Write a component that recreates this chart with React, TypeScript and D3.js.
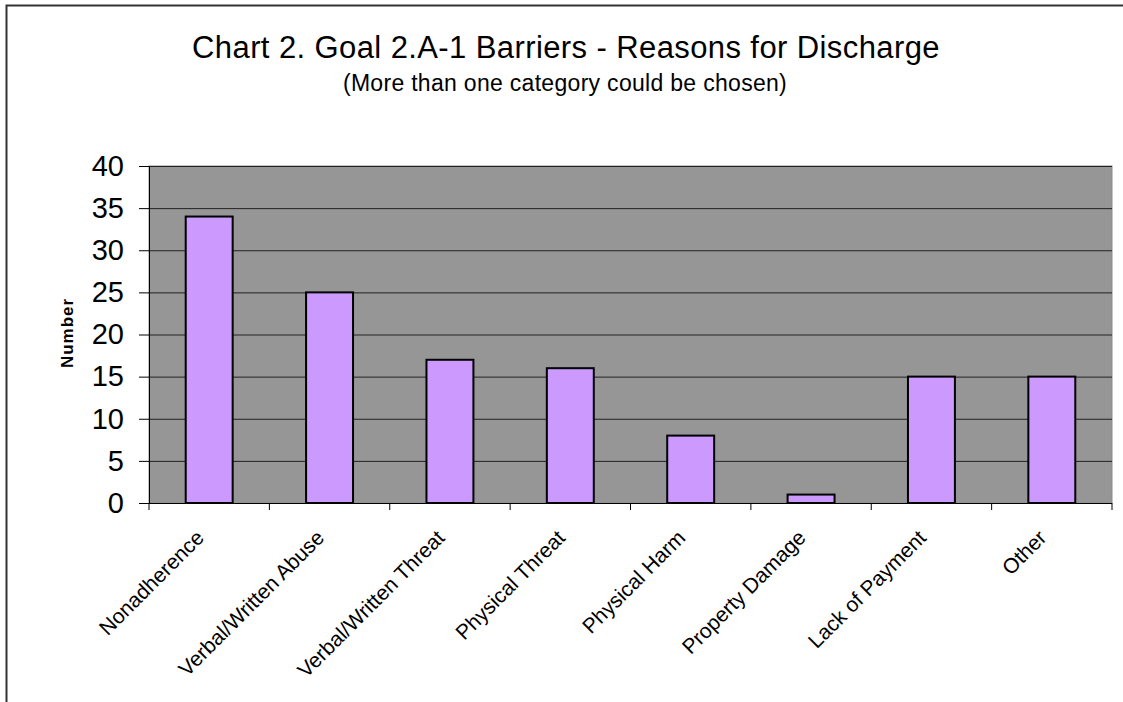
import React, { useEffect, useRef } from "react";
import * as d3 from "d3";

const categories = [
  "Nonadherence",
  "Verbal/Written Abuse",
  "Verbal/Written Threat",
  "Physical Threat",
  "Physical Harm",
  "Property Damage",
  "Lack of Payment",
  "Other",
];
const counts = [34, 25, 17, 16, 8, 1, 15, 15];
const yTicks = [0, 5, 10, 15, 20, 25, 30, 35, 40];

const W = 1123;
const H = 702;
const FONT = "'Liberation Sans', Arial, sans-serif";

const App: React.FC = () => {
  const ref = useRef<SVGSVGElement>(null);

  useEffect(() => {
    if (!ref.current) return;
    const svg = d3.select(ref.current);
    svg.selectAll("*").remove();

    const left = 149;
    const right = 1112;
    const top = 166;
    const bottom = 503;

    const x = d3
      .scaleBand<string>()
      .domain(categories)
      .range([left, right])
      .paddingInner(0.61)
      .paddingOuter(0.305);

    const y = d3.scaleLinear().domain([0, 40]).range([bottom, top]);

    // outer chart frame (only top and left edges are in view)
    svg
      .append("rect")
      .attr("x", 6.5)
      .attr("y", 5.5)
      .attr("width", W + 20)
      .attr("height", H + 20)
      .attr("fill", "#fff")
      .attr("stroke", "#333")
      .attr("stroke-width", 2);

    svg
      .append("text")
      .attr("x", 566)
      .attr("y", 58)
      .attr("text-anchor", "middle")
      .style("font-family", FONT)
      .style("font-size", "31px")
      .style("letter-spacing", "0.4px")
      .text("Chart 2. Goal 2.A-1 Barriers - Reasons for Discharge");

    svg
      .append("text")
      .attr("x", 565)
      .attr("y", 91)
      .attr("text-anchor", "middle")
      .style("font-family", FONT)
      .style("font-size", "23px")
      .style("letter-spacing", "0.3px")
      .text("(More than one category could be chosen)");

    // plot background
    svg
      .append("rect")
      .attr("x", left)
      .attr("y", top)
      .attr("width", right - left)
      .attr("height", bottom - top)
      .attr("fill", "#969696")
      .attr("stroke", "#8a8a8a")
      .attr("stroke-width", 1);

    // gridlines
    svg
      .append("g")
      .selectAll("line")
      .data(yTicks.filter((t) => t > 0))
      .enter()
      .append("line")
      .attr("x1", left)
      .attr("x2", right)
      .attr("y1", (d) => y(d) + 0.5)
      .attr("y2", (d) => y(d) + 0.5)
      .attr("stroke", "#222")
      .attr("stroke-width", 1);

    // y axis
    const yAxis = svg
      .append("g")
      .attr("transform", `translate(${left},0)`)
      .call(d3.axisLeft(y).tickValues(yTicks).tickSize(10).tickPadding(15));
    yAxis.select(".domain").attr("stroke", "#000");
    yAxis.selectAll(".tick line").attr("stroke", "#000");
    yAxis
      .selectAll("text")
      .style("font-family", FONT)
      .style("font-size", "29px")
      .attr("fill", "#000");

    // bars
    svg
      .append("g")
      .selectAll("rect")
      .data(counts)
      .enter()
      .append("rect")
      .attr("x", (d, i) => x(categories[i]) || 0)
      .attr("y", (d) => y(d))
      .attr("width", x.bandwidth())
      .attr("height", (d) => bottom - y(d))
      .attr("fill", "#CC99FF")
      .attr("stroke", "#000")
      .attr("stroke-width", 2);

    // x axis line and tick marks at band boundaries
    svg
      .append("line")
      .attr("x1", left)
      .attr("x2", right)
      .attr("y1", bottom + 0.5)
      .attr("y2", bottom + 0.5)
      .attr("stroke", "#000");
    const step = x.step();
    svg
      .append("g")
      .selectAll("line")
      .data(d3.range(categories.length + 1))
      .enter()
      .append("line")
      .attr("x1", (i) => left + i * step)
      .attr("x2", (i) => left + i * step)
      .attr("y1", bottom)
      .attr("y2", bottom + 7)
      .attr("stroke", "#000");

    // rotated category labels
    svg
      .append("g")
      .selectAll("text")
      .data(categories)
      .enter()
      .append("text")
      .attr(
        "transform",
        (d) => `translate(${(x(d) || 0) + x.bandwidth() / 2 - 4},${bottom + 36}) rotate(-45)`
      )
      .attr("text-anchor", "end")
      .style("font-family", FONT)
      .style("font-size", "21px")
      .text((d) => d);

    // y axis title
    svg
      .append("text")
      .attr("transform", `translate(73,333) rotate(-90)`)
      .attr("text-anchor", "middle")
      .style("font-family", FONT)
      .style("font-size", "17px")
      .style("font-weight", "bold")
      .style("letter-spacing", "1px")
      .text("Number");
  }, []);

  return (
    <div style={{ position: "absolute", left: 0, top: 0 }}>
      <svg ref={ref} width={W} height={H} style={{ display: "block" }} />
    </div>
  );
};

export default App;
